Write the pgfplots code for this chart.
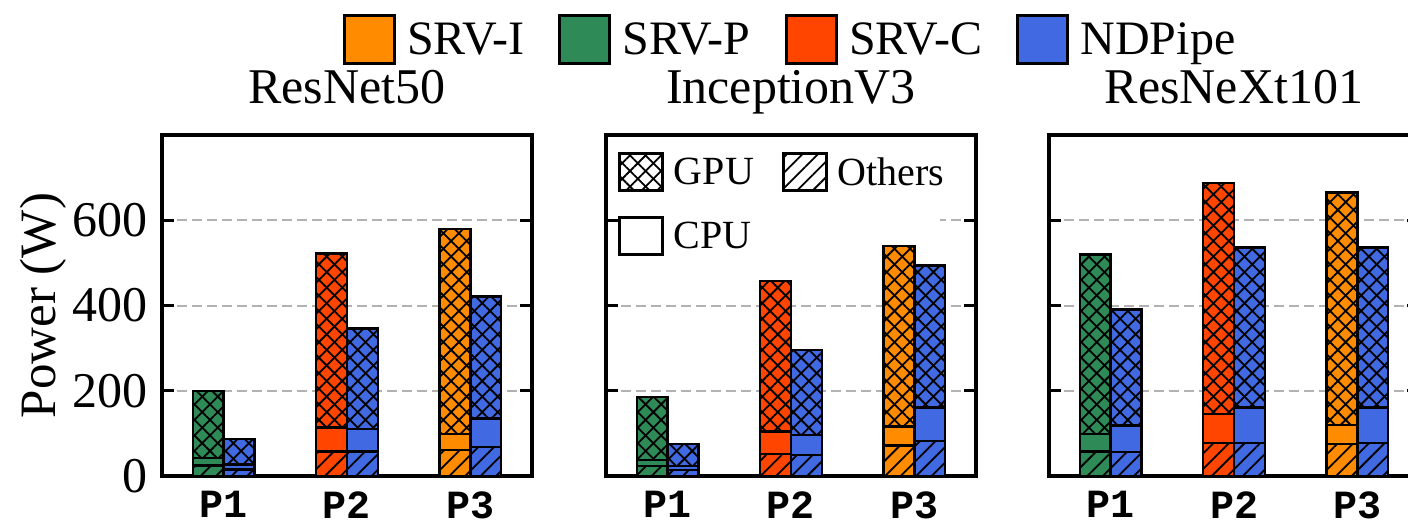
\documentclass[border=0pt]{standalone}
\usepackage{pgfplots}
\pgfplotsset{compat=1.18}
\usepackage{pgfplotstable}
\usepackage{fontspec}
\setmainfont{Liberation Serif}
\newfontfamily\tickfont{Liberation Mono}
\usetikzlibrary{patterns.meta}

\definecolor{srvi}{HTML}{FF8C00}
\definecolor{srvp}{HTML}{2E8B57}
\definecolor{srvc}{HTML}{FF4500}
\definecolor{ndp}{HTML}{4169E1}

% power (W) split into Others / CPU / GPU; cat 0,1,2 = P1,P2,P3
% srv* = baseline server (P1: SRV-P, P2: SRV-C, P3: SRV-I), nd* = NDPipe
\pgfplotstableread{
cat srvoth srvcpu srvgpu ndoth ndcpu ndgpu
0   25     17     158    15    12    60
1   57     57     408    57    53    236
2   61     38     480    68    67    286
}\resnet
\pgfplotstableread{
cat srvoth srvcpu srvgpu ndoth ndcpu ndgpu
0   24     14     147    14    10    51
1   52     52     353    49    47    200
2   71     45     424    82    79    333
}\inception
\pgfplotstableread{
cat srvoth srvcpu srvgpu ndoth ndcpu ndgpu
0   57     41     422    56    62    273
1   77     69     541    77    84    375
2   75     45     545    77    84    375
}\resnext

\tikzset{
  hatchx/.style={
    postaction={pattern={Lines[angle=45,distance=5.5pt,line width=0.9pt]}, pattern color=black},
    postaction={pattern={Lines[angle=-45,distance=5.5pt,line width=0.9pt]}, pattern color=black}},
  hatchslash/.style={
    postaction={pattern={Lines[angle=45,distance=5.5pt,line width=0.9pt]}, pattern color=black}},
}

\pgfplotsset{
  segment/.style={draw=black, line width=1.25pt, bar shift=0pt, bar width=0.25, forget plot},
  toplegimg/.style={draw=black, legend image code/.code={\draw[##1, line width=1.5pt] (0pt,-12pt) rectangle (25pt,12pt);}},
  innerlegimg/.style={draw=black, fill=white, legend image code/.code={\draw[##1, line width=1.5pt] (0pt,-9.25pt) rectangle (21.5pt,9.25pt);}},
  panel/.style={
    scale only axis, width=185pt, height=170.5pt,
    anchor=south west,
    xmin=-0.5, xmax=2.5, ymin=0, ymax=800,
    ybar, bar width=0.25,
    xtick={0,1,2}, xticklabels={P1,P2,P3},
    ytick={0,200,400,600},
    ymajorgrids,
    grid style={draw=gray!60, line width=1pt, dash pattern=on 5pt off 2.5pt},
    tick align=inside, ytick pos=both, yticklabel pos=left,
    major tick length=6pt,
    ytick style={line width=1.6pt, black},
    xtick style={draw=none},
    axis line style={line width=1.6pt},
    title style={at={(0.5,1)}, anchor=base, yshift=10pt, font=\fontsize{25}{30}\selectfont},
    yticklabel style={font=\fontsize{25}{30}\selectfont, anchor=east, inner sep=0pt, xshift=-7pt},
    xticklabel style={font=\fontsize{20}{24}\selectfont\tickfont\bfseries, anchor=north, inner sep=0pt, yshift=-7.5pt},
    /pgf/number format/assume math mode=true,
    legend cell align=left,
  },
}

% one stacked bar: #1 table, #2 colour, #3 column prefix, #4 x offset, #5 x domain
% drawn as full height (GPU on top), then CPU+Others, then Others over it
\newcommand\stackbar[5]{%
  \addplot[segment, fill=#2, hatchx, restrict x to domain=#5]
    table[x expr=\thisrow{cat}#4, y expr=\thisrow{#3oth}+\thisrow{#3cpu}+\thisrow{#3gpu}] {#1};
  \addplot[segment, fill=#2, restrict x to domain=#5]
    table[x expr=\thisrow{cat}#4, y expr=\thisrow{#3oth}+\thisrow{#3cpu}] {#1};
  \addplot[segment, fill=#2, hatchslash, restrict x to domain=#5]
    table[x expr=\thisrow{cat}#4, y=#3oth] {#1};
}
\newcommand\panelbars[1]{%
  \stackbar{#1}{srvp}{srv}{-0.125}{-0.5:0.5}
  \stackbar{#1}{srvc}{srv}{-0.125}{0.5:1.5}
  \stackbar{#1}{srvi}{srv}{-0.125}{1.5:2.5}
  \stackbar{#1}{ndp}{nd}{+0.125}{-1:3}
}

\begin{document}
\begin{tikzpicture}
\useasboundingbox (-81pt,-22.5pt) rectangle (623pt,238pt);

\begin{axis}[panel, at={(0pt,0pt)}, title={ResNet50},
  ylabel={Power (W)},
  ylabel style={at={(axis description cs:-0.289,0.5)}, anchor=base, font=\fontsize{25.5}{30}\selectfont},
  legend columns=4,
  legend style={at={(1.6946,1.2815)}, anchor=center, draw=none, fill=none, inner sep=0pt,
    font=\fontsize{24}{28}\selectfont, nodes={inner sep=0pt, text depth=0pt},
    /tikz/every odd column/.append style={column sep=5.75pt},
    /tikz/every even column/.append style={column sep=17pt}}]
\addlegendimage{toplegimg, fill=srvi}
\addlegendimage{toplegimg, fill=srvp}
\addlegendimage{toplegimg, fill=srvc}
\addlegendimage{toplegimg, fill=ndp}
\legend{SRV-I,SRV-P,SRV-C,NDPipe}
\panelbars{\resnet}
\end{axis}

\begin{axis}[panel, at={(222pt,0pt)}, title={InceptionV3}, yticklabels={},
  legend columns=2,
  legend style={at={(0.0054,0.982)}, anchor=north west, draw=none, fill=none, inner xsep=5pt, inner ysep=5pt,
    font=\fontsize{20}{24}\selectfont, nodes={inner sep=0pt, text depth=0pt},
    /tikz/row sep=12pt,
    /tikz/every odd column/.append style={column sep=4.75pt},
    /tikz/every even column/.append style={column sep=14pt}}]
\addlegendimage{innerlegimg, hatchx}
\addlegendimage{innerlegimg, hatchslash}
\addlegendimage{innerlegimg}
\legend{GPU,Others,CPU}
% blank backing of the key box: hides the grid behind it, bars stay on top
\fill[white] (rel axis cs:0.036,0.7) rectangle (rel axis cs:0.903,0.8);
\panelbars{\inception}
\end{axis}

\begin{axis}[panel, at={(443.5pt,0pt)}, title={ResNeXt101}, yticklabels={}]
\panelbars{\resnext}
\end{axis}
\end{tikzpicture}
\end{document}
